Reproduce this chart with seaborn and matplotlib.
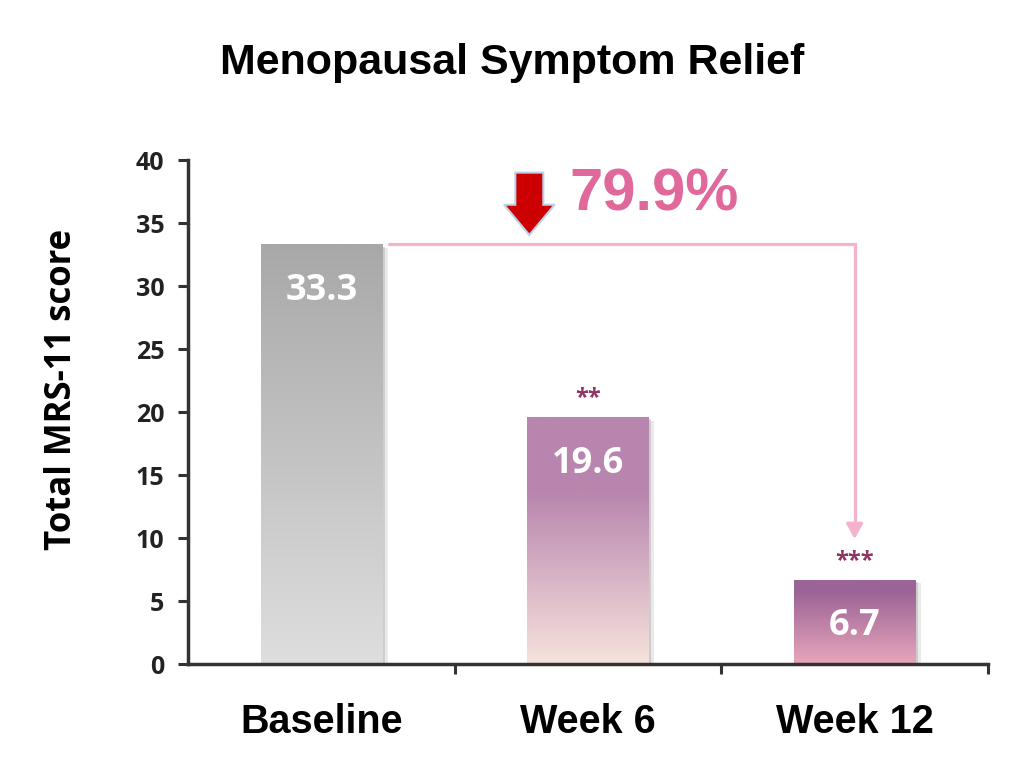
import numpy as np
import matplotlib
matplotlib.use("Agg")
import matplotlib.pyplot as plt
import matplotlib.patheffects as pe
from matplotlib.colors import LinearSegmentedColormap
from matplotlib.patches import FancyArrow
import seaborn as sns

# data
categories = ["Baseline", "Week 6", "Week 12"]
scores = [33.3, 19.6, 6.7]
stars = ["", "**", "***"]
yticks = [0, 5, 10, 15, 20, 25, 30, 35, 40]

# gradient colours per bar (top colour, bottom colour)
grad_top = ["#a8a8a8", "#b885ae", "#9b6496"]
grad_bot = ["#dedede", "#f6e3dc", "#e9a6bc"]
grad_hold = [0.0, 0.3, 0.15]   # fraction of bar (from top) kept at top colour

sns.set_style("white")
plt.rcParams["text.color"] = "black"
num_font = "Open Sans"
txt_font = "Liberation Sans"

fig = plt.figure(figsize=(10.24, 7.73), dpi=100)
ax = fig.add_axes([0.1836, 0.141, 0.7812, 0.652])

sns.barplot(x=categories, y=scores, ax=ax, width=0.455, color="#bbbbbb",
            edgecolor="none", saturation=1)

ax.set_xlim(-0.5, 2.5)
ax.set_ylim(0, 40)

# gradient fill clipped to each bar, with a soft shadow on the right
grad = np.linspace(0, 1, 256).reshape(-1, 1)
for i, p in enumerate(ax.patches):
    x0, y0 = p.get_x(), p.get_y()
    w, h = p.get_width(), p.get_height()
    h0 = grad_hold[i]
    cmap = LinearSegmentedColormap.from_list(
        f"g{i}", [(0, grad_bot[i]), (1 - h0, grad_top[i]), (1, grad_top[i])])
    p.set_path_effects([pe.SimplePatchShadow(offset=(2, -1.5), shadow_rgbFace="#999999", alpha=0.35),
                        pe.SimplePatchShadow(offset=(4, -2.5), shadow_rgbFace="#999999", alpha=0.2),
                        pe.Normal()])
    im = ax.imshow(grad, extent=[x0, x0 + w, y0, y0 + h], origin="lower",
                   aspect="auto", cmap=cmap, zorder=p.get_zorder() + 0.1)
    im.set_clip_path(p)
    # value label inside bar
    ax.text(x0 + w / 2, scores[i] - 3.7, f"{scores[i]:.1f}", ha="center", va="center",
            color="white", fontsize=26, fontweight="bold", family=num_font, zorder=5)
    if stars[i]:
        ax.text(x0 + w / 2, scores[i] + 1.5, stars[i], ha="center", va="center",
                color="#8f3565", fontsize=17, fontweight="bold", family=num_font, zorder=5)

ax.set_xlim(-0.5, 2.5)
ax.set_ylim(0, 40)

# connector from baseline to week 12
line_c = "#f4b2cd"
top_val = scores[0]
end_val = scores[2] + 3.0
ax.plot([0.255, 2.0, 2.0], [top_val, top_val, end_val + 0.8], color=line_c, lw=2.3,
        solid_joinstyle="miter", zorder=4, clip_on=False)
ax.annotate("", xy=(2.0, end_val), xytext=(2.0, end_val + 1.2),
            arrowprops=dict(arrowstyle="-|>,head_length=0.9,head_width=0.5",
                            color=line_c, lw=2.3), zorder=4)

# red down arrow + reduction percentage
reduction = (scores[0] - scores[2]) / scores[0] * 100
arr = FancyArrow(0.78, 39.0, 0, -4.95, width=0.105, head_width=0.19, head_length=2.4,
                 length_includes_head=True, facecolor="#cc0000", edgecolor="#bcd0e8",
                 lw=1.5, zorder=6, clip_on=False)
ax.add_patch(arr)
ax.text(0.93, 37.2, f"{reduction:.1f}%", ha="left", va="center", color="#e0689b",
        fontsize=43, fontweight="bold", family=txt_font, zorder=6)

# axes styling
ax.set_yticks(yticks)
ax.set_xticks([0, 1, 2])
ax.set_xticklabels(categories, fontsize=28.5, fontweight="bold", family=txt_font,
                   color="black")
for t in ax.get_yticklabels():
    t.set_fontsize(18)
    t.set_fontweight("bold")
    t.set_family(num_font)
    t.set_color("#222222")
ax.tick_params(axis="y", direction="out", length=7, width=2.2, color="#333333", pad=10, left=True)
ax.tick_params(axis="x", length=0, pad=28)
# category boundary ticks on the x axis
ax.set_xticks([0.5, 1.5, 2.5], minor=True)
ax.tick_params(axis="x", which="minor", direction="out", length=7, width=2.2,
               color="#333333", bottom=True)

for s in ["top", "right"]:
    ax.spines[s].set_visible(False)
for s in ["left", "bottom"]:
    ax.spines[s].set_color("#333333")
    ax.spines[s].set_linewidth(2.5)

ax.set_ylabel("Total MRS-11 score", fontsize=25, fontweight="bold", family=num_font,
              color="black")
ax.yaxis.set_label_coords(-0.135, 0.545)
ax.set_xlabel("")

fig.text(0.5, 0.918, "Menopausal Symptom Relief", ha="center", va="center",
         fontsize=31, fontweight="bold", family=txt_font, color="black")

fig.savefig("out.png", dpi=100)
